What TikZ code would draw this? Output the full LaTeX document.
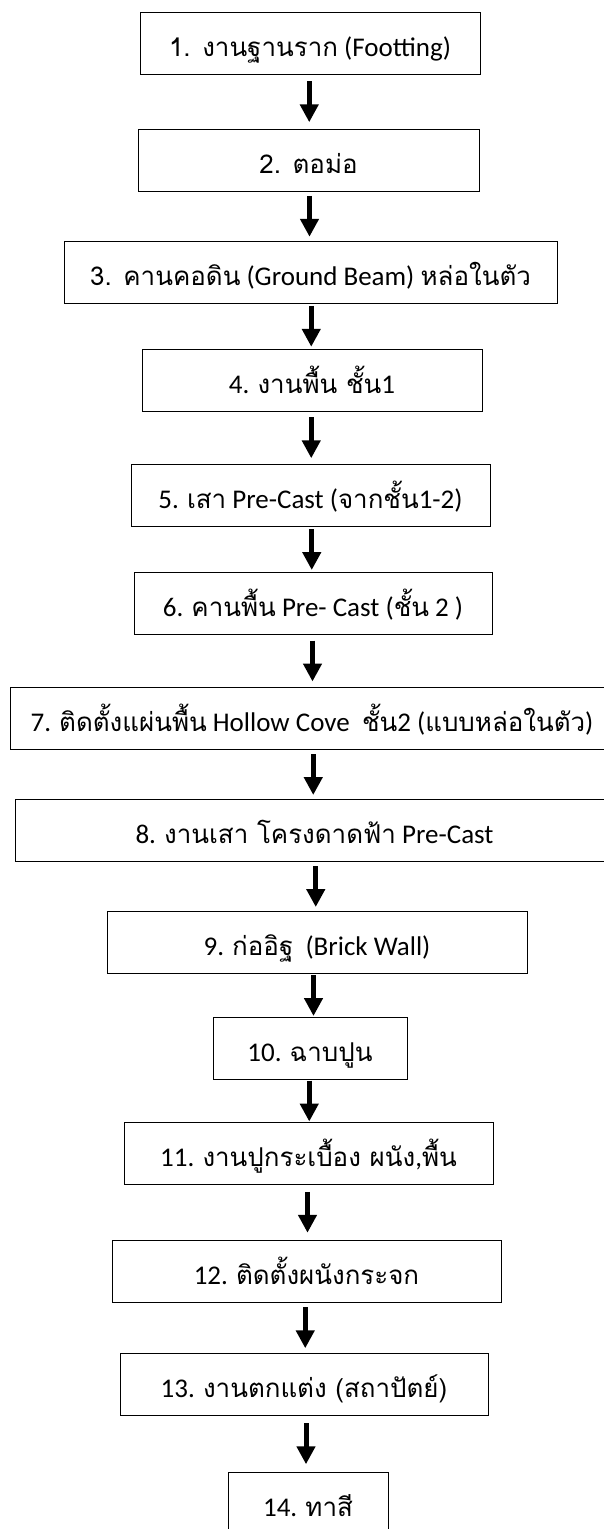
\documentclass[tikz,border=0pt]{standalone}
\usepackage{fontspec}
\setmainfont{Carlito}
\newfontfamily\thaifont[Script=Thai,Scale=0.96]{Loma}
\newcommand\thai[1]{{\thaifont #1}}
\usetikzlibrary{calc}
\usetikzlibrary{arrows.meta}

\begin{document}
\begin{tikzpicture}[>={Triangle[width=18pt,length=18pt]},x=1pt,y=-1pt,
    stepbox/.style={draw,line width=0.9pt,minimum height=62pt,inner sep=0pt,
        text height=28pt,text depth=2pt,font=\fontsize{27}{31}\selectfont},
    flow/.style={->,line width=5pt}]
            % page size
            \useasboundingbox (0,0) rectangle (603,1529);
            % draw the steps
            \node[stepbox,minimum width=340pt] (s1) at (310,43.5) {\thai{1. งานฐานราก} (Footting)};
            \node[stepbox,minimum width=341pt] (s2) at (308.5,160) {\thai{2. ตอม่อ}};
            \node[stepbox,minimum width=493pt] (s3) at (310.5,272.5) {\thai{3. คานคอดิน} (Ground Beam) \thai{หล่อในตัว}};
            \node[stepbox,minimum width=340pt] (s4) at (312,380) {4. \thai{งานพื้น ชั้น}1};
            \node[stepbox,minimum width=359pt] (s5) at (310.5,495.5) {5. \thai{เสา} Pre-Cast (\thai{จากชั้น}1-2)\ };
            \node[stepbox,minimum width=358pt] (s6) at (313,603.5) {6. \thai{คานพื้น} Pre- Cast (\thai{ชั้น} 2 )\ };
            \node[stepbox,minimum width=604pt] (s7) at (312,718.5) {7. \thai{ติดตั้งแผ่นพื้น} Hollow Cove\ \ \thai{ชั้น}2 (\thai{แบบหล่อในตัว})};
            \node[stepbox,minimum width=599pt] (s8) at (314.5,830.5) {8. \thai{งานเสา โครงดาดฟ้า} Pre-Cast};
            \node[stepbox,minimum width=420pt] (s9) at (317,942.5) {9. \thai{ก่ออิฐ}\ \ (Brick Wall)};
            \node[stepbox,minimum width=194pt] (s10) at (310,1048.5) {10. \thai{ฉาบปูน}};
            \node[stepbox,minimum width=369pt] (s11) at (308.5,1153.5) {11. \thai{งานปูกระเบื้อง ผนัง},\thai{พื้น}};
            \node[stepbox,minimum width=389pt] (s12) at (306.5,1271) {12. \thai{ติดตั้งผนังกระจก}};
            \node[stepbox,minimum width=368pt] (s13) at (304,1384.5) {13. \thai{งานตกแต่ง (สถาปัตย์)}};
            \node[stepbox,minimum width=160pt] (s14) at (308,1503) {14. \thai{ทาสี}};
            % draw the arrows
            \foreach \a [evaluate=\a as \b using int(\a+1)] in {1,...,13} {
                \coordinate (m\a) at ($(s\a.south)!0.5!(s\b.north)$);
                \draw[flow] ([yshift=20.5pt]m\a) -- ([yshift=-20.5pt]m\a);
            }
        \end{tikzpicture}
\end{document}
